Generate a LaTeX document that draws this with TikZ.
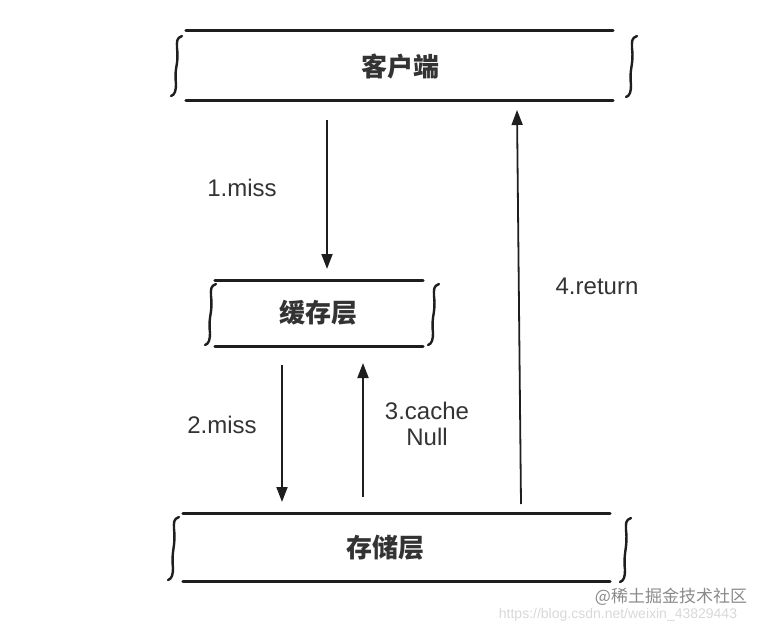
\documentclass[tikz,border=0pt]{standalone}
\usepackage{fontspec}
\setmainfont{Liberation Sans}
\newfontfamily\cjk{Noto Sans CJK SC}
\usetikzlibrary{arrows.meta,calc}
\definecolor{ink}{HTML}{1E1E1E}
\definecolor{txt}{HTML}{333333}
\definecolor{wm}{HTML}{8A8A8A}
\definecolor{wmlight}{HTML}{D8D8D8}
\tikzset{
  bar/.style={line width=3bp, draw=ink, line cap=round},
  bracestyle/.style={line width=2.4bp, draw=ink, line cap=round},
  flow/.style={line width=1.8bp, draw=ink, -{Triangle[length=15bp,width=11bp]}},
  layerbox/.style={rectangle, inner sep=0pt, draw=none},
  layertext/.style={font=\cjk\bfseries\fontsize{26bp}{30bp}\selectfont, text=txt, inner sep=0pt},
  lbl/.style={font=\fontsize{24bp}{28bp}\selectfont, text=txt, inner sep=0pt, align=center},
}
\newcommand\intbrace[3]{%
  \draw[bracestyle] (#1+5,#2) .. controls (#1-1,#2+2) and (#1,#2+6) .. (#1,#2+12)
     .. controls (#1+2,#2+30) and (#1-3,#3-30) .. (#1-1,#3-12)
     .. controls (#1-1,#3-6) and (#1-2,#3-1) .. (#1-6,#3);}
\begin{document}
\begin{tikzpicture}[x=1bp,y=-1bp]
\useasboundingbox (0,0) rectangle (761,627);
% boxes
\node[layerbox, minimum width=427bp, minimum height=69bp] (client) at (399.5,65.5) {};
\node[layerbox, minimum width=208bp, minimum height=65bp] (cache) at (319,313.5) {};
\node[layerbox, minimum width=427bp, minimum height=67bp] (store) at (396.5,547.5) {};
\node[layertext] (clienttxt) at (400,67) {客户端};
\node[layertext] (cachetxt) at (318,313) {缓存层};
\node[layertext] (storetxt) at (385,548) {存储层};
\foreach \b in {client,cache,store}{
  \draw[bar] (\b.north west) -- (\b.north east);
  \draw[bar] (\b.south west) -- (\b.south east);
}
\intbrace{177}{36}{96}
\intbrace{632}{36}{97}
\intbrace{211}{284}{345}
\intbrace{434}{284}{345}
\intbrace{174}{517}{580}
\intbrace{626}{518}{582}
% arrows
\coordinate (a1s) at (327,120); \coordinate (a1e) at (327,269);
\coordinate (a2s) at (282,365); \coordinate (a2e) at (282,502);
\coordinate (a3s) at (363,497); \coordinate (a3e) at (363,363);
\coordinate (a4s) at (521,504); \coordinate (a4e) at (517,110);
\draw[flow] (a1s) -- (a1e);
\draw[flow] (a2s) -- (a2e);
\draw[flow] (a3s) -- (a3e);
\draw[flow] (a4s) -- (a4e);
\node[lbl] (l1) at (242,188) {1.miss};
\node[lbl] (l2) at (222,425) {2.miss};
\node[lbl] (l3) at (427,424) {3.cache\\[-2bp]Null};
\node[lbl] (l4) at (597,286) {4.return};
% watermark
\node[font=\fontsize{14bp}{16bp}\selectfont, text=wmlight, inner sep=0pt] (url) at (618,615) {https://blog.csdn.net/weixin\_43829443};
\node[font=\cjk\fontsize{17bp}{19bp}\selectfont, text=wm, inner sep=0pt] (wmark) at (671,597) {@稀土掘金技术社区};
\end{tikzpicture}
\end{document}
